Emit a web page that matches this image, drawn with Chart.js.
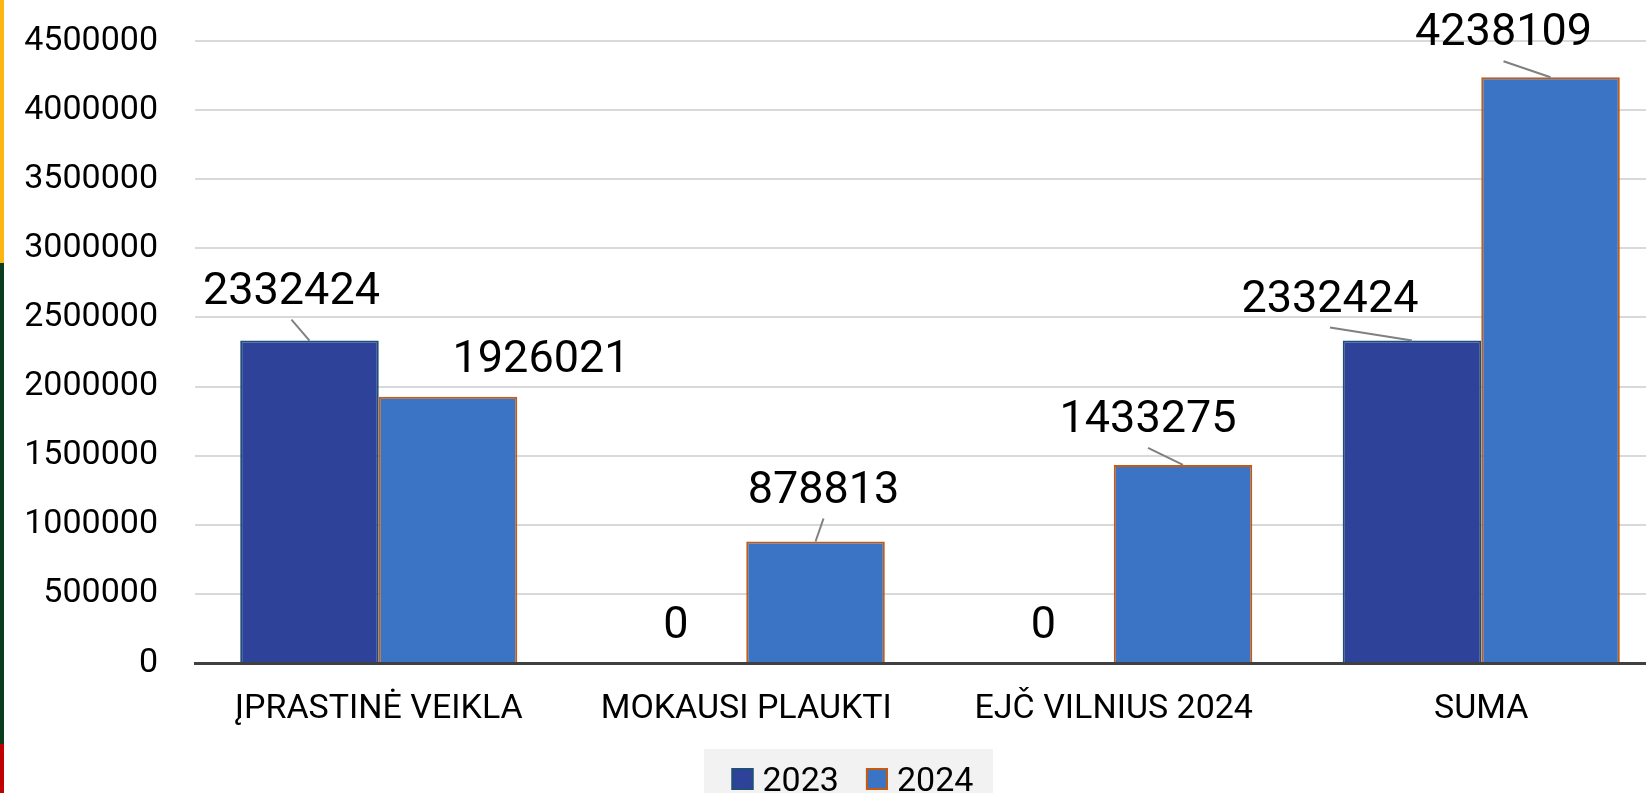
<!DOCTYPE html>
<html>
<head>
<meta charset="utf-8">
<script src="https://cdn.jsdelivr.net/npm/chart.js@4/dist/chart.umd.min.js"></script>
<style>
  html, body { margin: 0; padding: 0; background: #fff; overflow: hidden; }
  #wrap { width: 1697px; height: 793px; }
</style>
</head>
<body>
<div id="wrap"><canvas id="chart" width="1697" height="793"></canvas></div>
<script>
// Data
const categories = ['ĮPRASTINĖ VEIKLA', 'MOKAUSI PLAUKTI', 'EJČ VILNIUS 2024', 'SUMA'];
const seriesNames = ['2023', '2024'];
const values2023 = [2332424, 0, 0, 2332424];
const values2024 = [1926021, 878813, 1433275, 4238109];
const yTicks = [0, 500000, 1000000, 1500000, 2000000, 2500000, 3000000, 3500000, 4000000, 4500000];

// Label placement relative to bar top (dx, dy of label centre), and whether a leader line is drawn
const labelOffsets = [
  [[-18, -53], [-1, -41], [-1, -41], [-82, -45]],
  [[93, -41], [8, -55], [-35, -49], [-47, -48]]
];
const leaders = [
  [true, false, false, true],
  [false, true, true, true]
];

const FONT = 'Roboto, "Liberation Sans", Arial, sans-serif';

// Lithuanian flag stripe on the left edge
const stripePlugin = {
  id: 'stripe',
  beforeDraw(chart) {
    const ctx = chart.ctx;
    ctx.save();
    ctx.fillStyle = '#FCB611';
    ctx.fillRect(0, 0, 4, 263);
    ctx.fillStyle = '#0A3D1E';
    ctx.fillRect(0, 263, 4, 481);
    ctx.fillStyle = '#C00000';
    ctx.fillRect(0, 744, 4, 60);
    ctx.restore();
  }
};

// Value labels with grey leader lines
const valueLabels = {
  id: 'valueLabels',
  afterDraw(chart) {
    const ctx = chart.ctx;
    ctx.save();
    ctx.font = '45px ' + FONT;
    ctx.textAlign = 'center';
    ctx.textBaseline = 'alphabetic';
    chart.data.datasets.forEach((ds, i) => {
      const meta = chart.getDatasetMeta(i);
      meta.data.forEach((bar, j) => {
        const [dx, dy] = labelOffsets[i][j];
        const lx = bar.x + dx;
        const ly = bar.y + dy;
        if (leaders[i][j]) {
          ctx.strokeStyle = '#808080';
          ctx.lineWidth = 2;
          ctx.beginPath();
          ctx.moveTo(lx, ly + 32);
          ctx.lineTo(bar.x, bar.y);
          ctx.stroke();
        }
        ctx.fillStyle = '#000';
        ctx.fillText(String(ds.data[j]), lx, ly + 16);
      });
    });
    ctx.restore();
  }
};

// Legend with light grey background at the bottom
const bottomLegend = {
  id: 'bottomLegend',
  afterDraw(chart) {
    const ctx = chart.ctx;
    const cx = chart.width / 2;
    ctx.save();
    ctx.fillStyle = '#F2F2F2';
    ctx.fillRect(cx - 144.5, 749, 289, 60);
    ctx.font = '34px ' + FONT;
    ctx.textBaseline = 'alphabetic';
    ctx.textAlign = 'left';
    let x = cx - 117;
    chart.data.datasets.forEach(ds => {
      ctx.fillStyle = ds.backgroundColor;
      ctx.fillRect(x, 768, 22, 22);
      ctx.strokeStyle = ds.borderColor;
      ctx.lineWidth = 2;
      ctx.strokeRect(x + 1, 769, 20, 20);
      ctx.fillStyle = '#000';
      ctx.fillText(ds.label, x + 31, 791);
      x += 31 + ctx.measureText(ds.label).width + 27;
    });
    ctx.restore();
  }
};

new Chart(document.getElementById('chart'), {
  type: 'bar',
  data: {
    labels: categories,
    datasets: [
      {
        label: seriesNames[0],
        data: values2023,
        backgroundColor: '#2E4299',
        borderColor: '#1F4E79',
        borderWidth: 2,
        barPercentage: 1,
        categoryPercentage: 0.754
      },
      {
        label: seriesNames[1],
        data: values2024,
        backgroundColor: '#3C74C5',
        borderColor: '#C55A11',
        borderWidth: 2,
        barPercentage: 1,
        categoryPercentage: 0.754
      }
    ]
  },
  options: {
    responsive: false,
    animation: false,
    devicePixelRatio: 1,
    layout: { padding: { left: 0, right: 32, top: 41, bottom: 0 } },
    plugins: {
      legend: { display: false },
      tooltip: { enabled: false }
    },
    scales: {
      x: {
        z: 1,
        grid: { display: false, drawTicks: false },
        border: { display: true, color: '#404040', width: 3 },
        ticks: { color: '#000', padding: 26, font: { family: FONT, size: 34 } },
        afterFit: s => { s.height = 130; }
      },
      y: {
        min: 0,
        max: 4500000,
        afterBuildTicks: s => { s.ticks = yTicks.map(v => ({ value: v })); },
        grid: { color: '#D9D9D9', lineWidth: 2, drawTicks: false },
        border: { display: false },
        ticks: {
          color: '#000',
          padding: 37,
          font: { family: FONT, size: 34 },
          callback: v => String(v)
        },
        afterFit: s => { s.width = 195; s.paddingTop = 0; s.paddingBottom = 0; }
      }
    }
  },
  plugins: [stripePlugin, valueLabels, bottomLegend]
});
</script>
</body>
</html>
